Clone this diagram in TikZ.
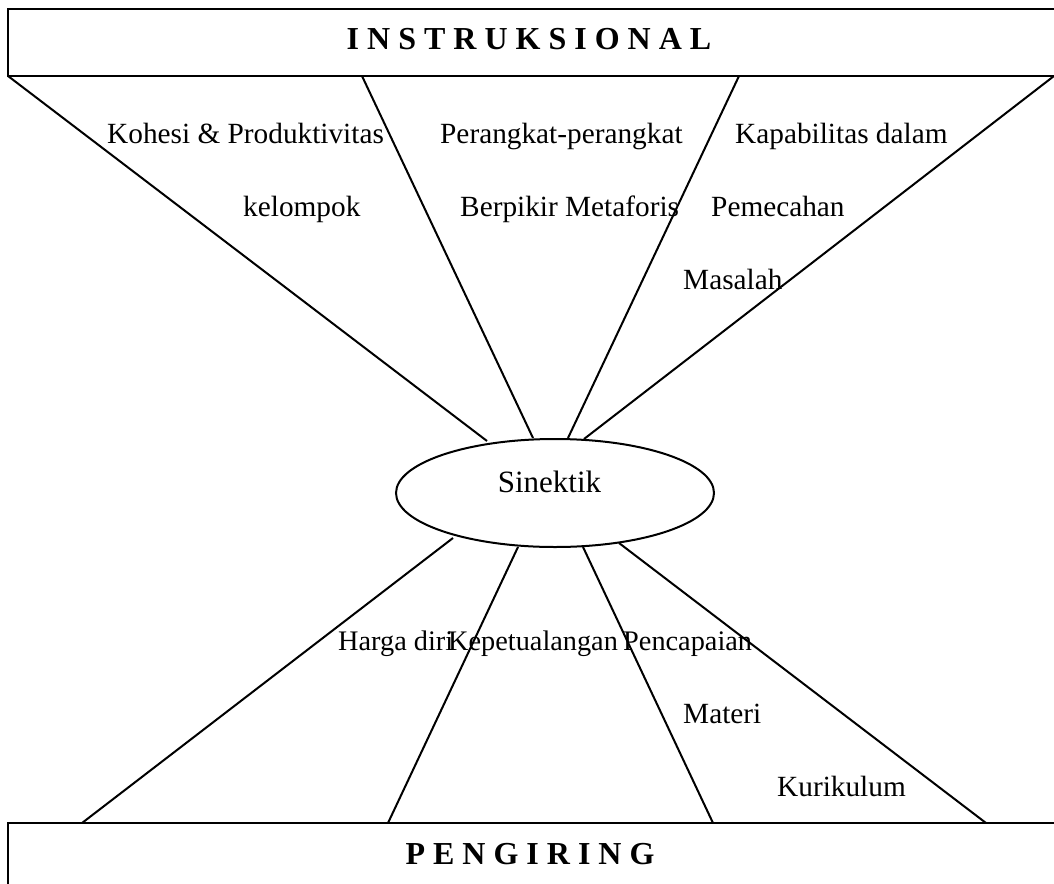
\documentclass[tikz,border=0pt]{standalone}
\usepackage{fontspec}
\setmainfont{Liberation Serif}
\usetikzlibrary{shapes.geometric}
\begin{document}
\begin{tikzpicture}[x=1pt,y=-1pt,
  ln/.style={line width=2pt,black},
  bx/.style={line width=2.2pt,black},
  lbl/.style={font=\fontsize{29.3}{32}\selectfont,inner sep=0pt,anchor=base west},
  lbls/.style={lbl,font=\fontsize{28.3}{31}\selectfont},
  head/.style={font=\fontsize{32}{36}\selectfont\bfseries,inner sep=0pt,anchor=base}]
\useasboundingbox (0,0) rectangle (1054,883);
\clip (0,0) rectangle (1054,883);
\fill[white] (0,0) rectangle (1054,883);
% boxes
\draw[bx] (1080,9) -- (8,9) -- (8,76) -- (1080,76);
\draw[bx] (8,900) -- (8,823) -- (1080,823);
\node[head] (inst) at (529,49) {I N S T R U K S I O N A L};
\node[head] (peng) at (530,864) {P E N G I R I N G};
% ellipse
\node[draw,line width=2pt,ellipse,minimum width=318pt,minimum height=108pt,inner sep=0pt] (sin) at (555,493) {};
\node[font=\fontsize{31}{34}\selectfont,inner sep=0pt,anchor=base] (sintxt) at (549.5,492) {Sinektik};
% end points
\coordinate (t1) at (8,76);
\coordinate (t2) at (362,76);
\coordinate (t3) at (739,76);
\coordinate (t4) at (1054,76);
\coordinate (e1) at (487,441);
\coordinate (e2) at (533,438);
\coordinate (e3) at (568,438);
\coordinate (e4) at (584,439);
\coordinate (f1) at (453,538);
\coordinate (f2) at (518,547);
\coordinate (f3) at (583,547);
\coordinate (f4) at (619,543);
\coordinate (b1) at (82,823);
\coordinate (b2) at (388,823);
\coordinate (b3) at (713,823);
\coordinate (b4) at (986,823);
\draw[ln] (t1) -- (e1);
\draw[ln] (t2) -- (e2);
\draw[ln] (t3) -- (e3);
\draw[ln] (t4) -- (e4);
\draw[ln] (f1) -- (b1);
\draw[ln] (f2) -- (b2);
\draw[ln] (f3) -- (b3);
\draw[ln] (f4) -- (b4);
% labels
\node[lbl] (l1) at (107,143) {Kohesi \& Produktivitas};
\node[lbl] (l2) at (243,216) {kelompok};
\node[lbl] (l3) at (440,143) {Perangkat-perangkat};
\node[lbl] (l4) at (460,216) {Berpikir Metaforis};
\node[lbl] (l5) at (735,143) {Kapabilitas dalam};
\node[lbl] (l6) at (711,216) {Pemecahan};
\node[lbl] (l7) at (683,289) {Masalah};
\node[lbls] (l8) at (338,650) {Harga diri};
\node[lbls] (l9) at (448,650) {Kepetualangan};
\node[lbls] (l10) at (623,650) {Pencapaian};
\node[lbl] (l11) at (683,723) {Materi};
\node[lbl] (l12) at (777,796) {Kurikulum};
\end{tikzpicture}
\end{document}
